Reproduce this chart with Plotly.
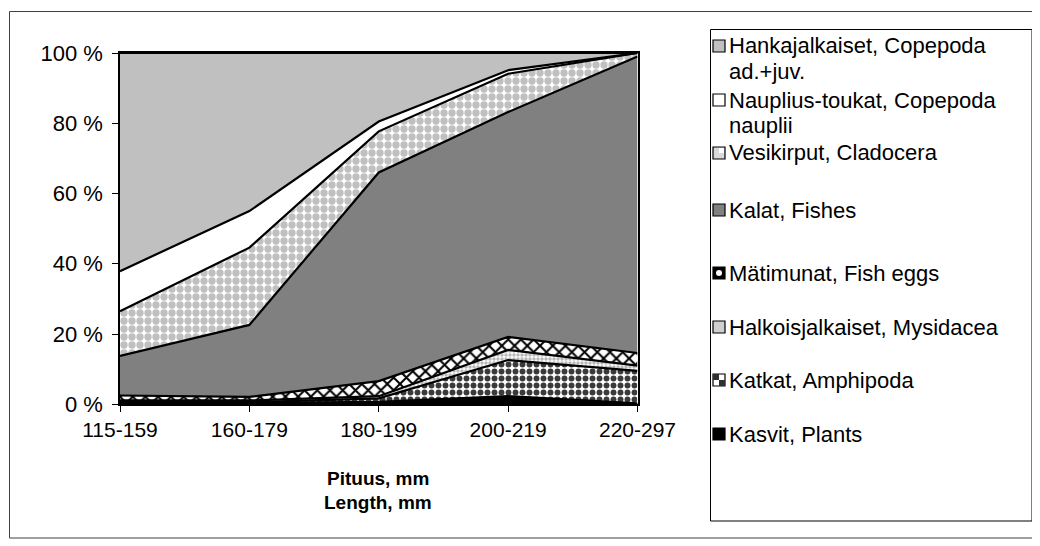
import plotly.graph_objects as go

# ---- data (percent of diet) ----
categories = ["115-159", "160-179", "180-199", "200-219", "220-297"]
plants = [0.5, 0.4, 0.7, 2.3, 0.3]
amphipoda = [0.2, 0.2, 1.0, 10.3, 9.2]
mysidacea = [0.4, 0.5, 0.6, 2.9, 1.5]
fish_eggs = [1.4, 1.0, 4.3, 3.7, 3.6]
fishes = [11.3, 20.5, 59.4, 64.0, 84.4]
cladocera = [12.7, 22.0, 11.7, 10.9, 1.0]
nauplii = [11.4, 10.4, 2.8, 1.0, 0.0]
copepoda = [62.1, 45.0, 19.5, 4.9, 0.0]

y_tickvals = [0, 20, 40, 60, 80, 100]
y_ticktext = ["0 %", "20 %", "40 %", "60 %", "80 %", "100 %"]

series_names = [
    "Kasvit, Plants",
    "Katkat, Amphipoda",
    "Halkoisjalkaiset, Mysidacea",
    "Mätimunat, Fish eggs",
    "Kalat, Fishes",
    "Vesikirput, Cladocera",
    "Nauplius-toukat, Copepoda|nauplii",
    "Hankajalkaiset, Copepoda|ad.+juv.",
]
series_values = [plants, amphipoda, mysidacea, fish_eggs, fishes, cladocera, nauplii, copepoda]

W, H = 1040, 546
OFF = 8  # page body margin
def px(x):
    return (x - OFF) / W
def py(y):
    return 1 - (y - OFF) / H

FONT = "Liberation Sans, Arial, sans-serif"

styles = [
    dict(fillcolor="#000000"),
    dict(fillpattern=dict(shape=".", bgcolor="#ffffff", fgcolor="#3a3a3a", size=7, solidity=0.55, fillmode="replace")),
    dict(fillpattern=dict(shape=".", bgcolor="#ffffff", fgcolor="#b8b8b8", size=4, solidity=0.6, fillmode="replace")),
    dict(fillpattern=dict(shape="x", bgcolor="#ffffff", fgcolor="#000000", size=9, solidity=0.4, fillmode="replace")),
    dict(fillcolor="#808080"),
    dict(fillpattern=dict(shape=".", bgcolor="#ffffff", fgcolor="#c0c0c0", size=8, solidity=0.65, fillmode="replace")),
    dict(fillcolor="#ffffff"),
    dict(fillcolor="#c0c0c0"),
]

fig = go.Figure()
for name, vals, st in zip(series_names, series_values, styles):
    fig.add_trace(go.Scatter(
        x=categories, y=vals, name=name.replace("|", " "), mode="lines",
        stackgroup="one", line=dict(color="#000000", width=2.2),
        showlegend=False, **st))

fig.update_layout(
    width=W, height=H,
    margin=dict(l=0, r=0, t=0, b=0, autoexpand=False),
    paper_bgcolor="white", plot_bgcolor="white",
    font=dict(family=FONT, size=20, color="black"),
    xaxis=dict(domain=[px(120), px(637.5)], type="category", range=[0, 4],
               showgrid=False, showline=True, linecolor="black", linewidth=1.5,
               ticks="outside", ticklen=6, tickcolor="black", mirror=True,
               tickfont=dict(size=21), zeroline=False, automargin=False),
    yaxis=dict(domain=[py(404.3), py(53)], range=[0, 100],
               tickvals=y_tickvals, ticktext=y_ticktext,
               showgrid=False, showline=True, linecolor="black", linewidth=1.5,
               ticks="outside", ticklen=6, tickcolor="black", mirror=True,
               ticklabelstandoff=5,
               tickfont=dict(size=22), zeroline=False, automargin=False),
    showlegend=False,
)

shapes = []
annotations = []
# outer chart frame
shapes.append(dict(type="rect", xref="paper", yref="paper",
                   x0=px(9.5), x1=px(1038.5), y0=py(538), y1=py(11.5),
                   line=dict(color="#404040", width=1), fillcolor="rgba(0,0,0,0)", layer="below"))
# legend frame
shapes.append(dict(type="rect", xref="paper", yref="paper",
                   x0=px(710.5), x1=px(1032), y0=py(521), y1=py(29.5),
                   line=dict(color="#000000", width=1), fillcolor="white", layer="below"))

# axis titles
annotations.append(dict(xref="paper", yref="paper", x=px(378), y=py(478), text="<b>Pituus, mm</b>",
                        showarrow=False, font=dict(size=19), xanchor="center", yanchor="middle"))
annotations.append(dict(xref="paper", yref="paper", x=px(378), y=py(502), text="<b>Length, mm</b>",
                        showarrow=False, font=dict(size=19), xanchor="center", yanchor="middle"))

# legend entries (top-down)
legend_rows = [46, 100, 153, 210, 273, 327, 380, 434]
legend_order = list(range(len(series_names)))[::-1]
icon_fill = ["#000000", "#ffffff", "#cfcfcf", "#000000", "#808080", "#d8d8d8", "#ffffff", "#c0c0c0"]
for row_y, idx in zip(legend_rows, legend_order):
    x0, x1 = 713, 725
    y0, y1 = row_y - 6, row_y + 6
    shapes.append(dict(type="rect", xref="paper", yref="paper",
                       x0=px(x0), x1=px(x1), y0=py(y1), y1=py(y0),
                       line=dict(color="black", width=1.2), fillcolor=icon_fill[idx]))
    if idx == 1:  # amphipoda checker
        shapes.append(dict(type="rect", xref="paper", yref="paper", x0=px(x0), x1=px((x0+x1)/2),
                           y0=py(row_y), y1=py(y0), line=dict(width=0), fillcolor="#303030"))
        shapes.append(dict(type="rect", xref="paper", yref="paper", x0=px((x0+x1)/2), x1=px(x1),
                           y0=py(y1), y1=py(row_y), line=dict(width=0), fillcolor="#303030"))
    if idx == 3:  # fish eggs
        shapes.append(dict(type="circle", xref="paper", yref="paper", x0=px(x0+3), x1=px(x1-3),
                           y0=py(y1-3), y1=py(y0+3), line=dict(width=0), fillcolor="white"))
    if idx == 5:  # cladocera
        shapes.append(dict(type="rect", xref="paper", yref="paper", x0=px((x0+x1)/2), x1=px(x1-1),
                           y0=py(row_y), y1=py(y0+1), line=dict(width=0), fillcolor="white"))
    for k, line in enumerate(series_names[idx].split("|")):
        annotations.append(dict(xref="paper", yref="paper", x=px(727), y=py(row_y + 25 * k),
                                text=line, showarrow=False, align="left",
                                xanchor="left", yanchor="middle", font=dict(size=22)))

fig.update_layout(shapes=shapes, annotations=annotations)
fig.write_html("out.html")
